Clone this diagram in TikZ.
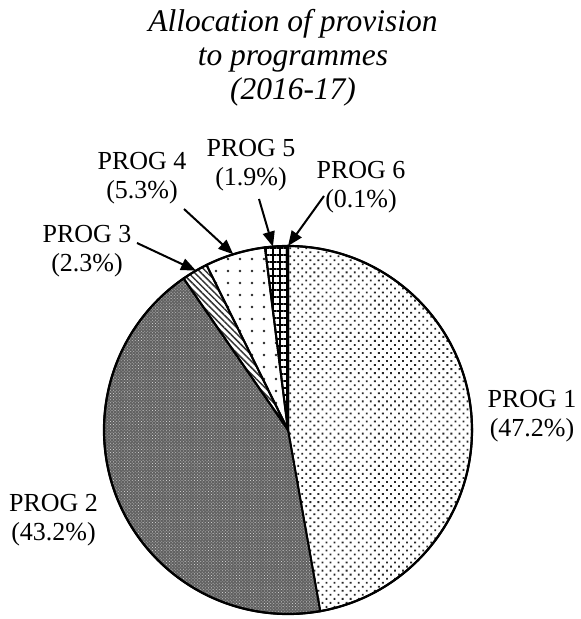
\documentclass[tikz,border=0pt]{standalone}
\usepackage{fontspec}
\setmainfont{Liberation Serif}
\usetikzlibrary{patterns.meta,arrows.meta,calc}

\tikzset{
  slice/.style={draw=black, line width=2pt},
  lbl/.style={font=\fontsize{26}{29}\selectfont, align=center, anchor=base, inner sep=0pt},
  callout/.style={line width=2pt, -{Triangle[length=15pt,width=12pt]}},
}

\begin{document}
\begin{tikzpicture}[x=1pt,y=1pt]
  \useasboundingbox (0,0) rectangle (581,619);
  \coordinate (c) at (288,189);
  % slices
  \filldraw[slice, pattern={Dots[angle=45,distance=5.7pt,radius=1.3pt]}, pattern color=black!85]
    (c) -- ++(-79.92:184) arc (-79.92:90:184) -- cycle;
  \filldraw[slice, preaction={fill=black!62}, pattern={Dots[angle=45,distance=2.2pt,radius=0.55pt]}, pattern color=white!80!black]
    (c) -- ++(124.56:184) arc (124.56:280.08:184) -- cycle;
  \filldraw[slice, pattern={Lines[angle=-45,distance=4.5pt,line width=1.5pt]}, pattern color=black!80]
    (c) -- ++(116.28:184) arc (116.28:124.56:184) -- cycle;
  \filldraw[slice, pattern={Dots[distance=12pt,radius=1.4pt]}, pattern color=black!85]
    (c) -- ++(97.2:184) arc (97.2:116.28:184) -- cycle;
  \filldraw[slice, pattern={Hatch[distance=7pt,line width=1.8pt]}, pattern color=black]
    (c) -- ++(90.36:184) arc (90.36:97.2:184) -- cycle;
  \filldraw[slice, fill=black]
    (c) -- ++(90:184) arc (90:90.36:184) -- cycle;
  \draw[line width=2.2pt] (c) circle (184);

  \node[font=\fontsize{31.5}{34}\selectfont\itshape, align=center, anchor=base, inner sep=0pt] (title)
    at (293,519) {Allocation of provision\\to programmes\\(2016-17)};

  \node[lbl] (p1) at (532,182) {PROG 1\\(47.2\%)};
  \node[lbl] (p2) at (53.5,78) {PROG 2\\(43.2\%)};
  \node[lbl] (p3) at (87,347) {PROG 3\\(2.3\%)};
  \node[lbl] (p4) at (142,420) {PROG 4\\(5.3\%)};
  \node[lbl] (p5) at (251,433) {PROG 5\\(1.9\%)};
  \node[lbl] (p6) at (361,411) {PROG 6\\(0.1\%)};

  \coordinate (s3) at (137,376);
  \coordinate (s4) at (184,410);
  \coordinate (s5) at (259,420);
  \coordinate (s6) at (324,423);
  \coordinate (t3) at ($(c)+(120:184)$);
  \coordinate (t4) at ($(c)+(107.3:184)$);
  \coordinate (t5) at ($(c)+(94.7:184)$);
  \coordinate (t6) at ($(c)+(90:184)$);
  \draw[callout] (s3) -- (t3);
  \draw[callout] (s4) -- (t4);
  \draw[callout] (s5) -- (t5);
  \draw[callout] (s6) -- (t6);
\end{tikzpicture}
\end{document}
